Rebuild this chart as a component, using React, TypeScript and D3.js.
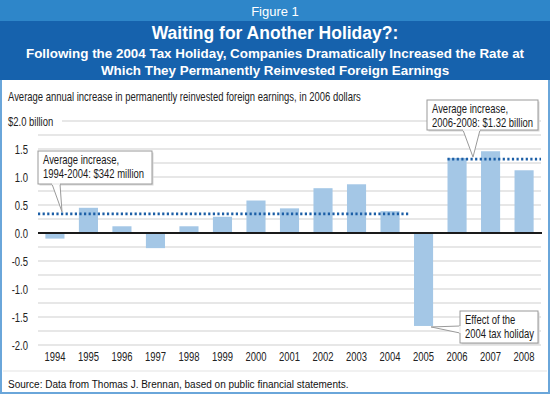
import { useEffect, useRef } from "react"
import * as d3 from "d3"

// data
const years = ["1994", "1995", "1996", "1997", "1998", "1999", "2000", "2001", "2002", "2003", "2004", "2005", "2006", "2007", "2008"]
const increases = [-0.1, 0.45, 0.12, -0.27, 0.12, 0.29, 0.58, 0.44, 0.8, 0.87, 0.39, -1.66, 1.34, 1.46, 1.12]
const yTicks = [2.0, 1.5, 1.0, 0.5, 0.0, -0.5, -1.0, -1.5, -2.0]
const averages = [
  { from: "1994", to: "2004", value: 0.342, lines: ["Average increase,", "1994-2004: $342 million"] },
  { from: "2006", to: "2008", value: 1.32, lines: ["Average increase,", "2006-2008: $1.32 billion"] },
]
const holidayNote = ["Effect of the", "2004 tax holiday"]

const W = 550
const H = 394
const arial = "'Liberation Sans', Arial, sans-serif"
// the reference uses a condensed face; squeeze Liberation Sans horizontally
const SX = 0.74
const FS = 12.8
const at = (x: number, y: number) => `translate(${x},${y}) scale(${SX},1)`

const Chart = () => {
  const svgRef = useRef<SVGSVGElement>(null)

  useEffect(() => {
    const svg = d3.select(svgRef.current)
    svg.selectAll("*").remove()

    const margin = { left: 38, right: 9, top: 121, bottom: 49 }

    const x = d3.scaleBand()
      .domain(years)
      .range([margin.left, W - margin.right])
      .paddingInner(0.43)
      .paddingOuter(0.22)

    const y = d3.scaleLinear()
      .domain([-2, 2])
      .range([H - margin.bottom, margin.top])

    // frame + header bands
    svg.append("rect").attr("width", W).attr("height", H).attr("fill", "#fff")
    svg.append("rect").attr("x", 1).attr("y", 1).attr("width", W - 2).attr("height", H - 2)
      .attr("fill", "none").attr("stroke", "#6aa6da").attr("stroke-width", 2)
    svg.append("rect").attr("width", W).attr("height", 21).attr("fill", "#2e86c9")
    svg.append("rect").attr("y", 21).attr("width", W).attr("height", 59).attr("fill", "#1662ad")

    const header = svg.append("g").attr("fill", "#fff").attr("text-anchor", "middle").attr("font-family", arial)
    header.append("text").attr("x", W / 2).attr("y", 15.5).attr("font-size", 13).text("Figure 1")
    header.append("text").attr("x", W / 2).attr("y", 39).attr("font-size", 17.5).attr("font-weight", "bold")
      .text("Waiting for Another Holiday?:")
    header.append("text").attr("x", W / 2).attr("y", 58).attr("font-size", 13.4).attr("font-weight", "bold")
      .text("Following the 2004 Tax Holiday, Companies Dramatically Increased the Rate at")
    header.append("text").attr("x", W / 2).attr("y", 75).attr("font-size", 13.4).attr("font-weight", "bold")
      .text("Which They Permanently Reinvested Foreign Earnings")

    svg.append("text").attr("transform", at(8, 101)).attr("font-family", arial).attr("font-size", FS).attr("fill", "#222")
      .text("Average annual increase in permanently reinvested foreign earnings, in 2006 dollars")

    // gridlines (every 0.25)
    const grid = d3.range(-2, 2.01, 0.25)
    svg.append("g").attr("stroke", "#cfcfcf").attr("stroke-width", 1)
      .selectAll("line").data(grid.filter(d => d !== 0)).join("line")
      .attr("x1", d => (d === 2 ? 62 : margin.left)).attr("x2", W - margin.right)
      .attr("y1", d => y(d)).attr("y2", d => y(d))

    // y tick labels
    svg.append("g").attr("font-family", arial).attr("font-size", FS).attr("fill", "#222")
      .selectAll("text").data(yTicks).join("text")
      .attr("transform", d => at(d === 2 ? 8 : 28, y(d) + 4.5))
      .attr("text-anchor", d => (d === 2 ? "start" : "end"))
      .text(d => (d === 2 ? "$2.0 billion" : d3.format(".1f")(d).replace("−", "-")))

    // bars
    svg.append("g").attr("fill", "#a4c7e6")
      .selectAll("rect").data(increases).join("rect")
      .attr("x", (d, i) => x(years[i])!)
      .attr("width", x.bandwidth())
      .attr("y", d => y(Math.max(0, d)))
      .attr("height", d => Math.abs(y(d) - y(0)))

    // zero line
    svg.append("line").attr("x1", margin.left).attr("x2", W - margin.right + 1)
      .attr("y1", y(0)).attr("y2", y(0)).attr("stroke", "#1a1a1a").attr("stroke-width", 2)

    // x labels
    svg.append("g").attr("font-family", arial).attr("font-size", FS).attr("fill", "#222").attr("text-anchor", "middle")
      .selectAll("text").data(years).join("text")
      .attr("transform", d => at(x(d)! + x.bandwidth() / 2, 361))
      .text(d => d)

    // average dotted lines
    averages.forEach((a, i) => {
      const x1 = i === 0 ? margin.left : x(a.from)!
      const x2 = i === 0 ? x(a.to)! + x.bandwidth() + 9 : W - margin.right
      svg.append("line").attr("x1", x1).attr("x2", x2).attr("y1", y(a.value)).attr("y2", y(a.value))
        .attr("stroke", "#1b5ea6").attr("stroke-width", 2.6).attr("stroke-dasharray", "2.2,2.4")
    })

    // callouts
    const callout = (bx: number, by: number, bw: number, bh: number, lines: string[], pointer: [number, number][]) => {
      const g = svg.append("g")
      g.append("rect").attr("x", bx + 1.5).attr("y", by + 1.5).attr("width", bw).attr("height", bh).attr("fill", "#d8d8d8")
      g.append("path").attr("d", d3.line()(pointer)).attr("fill", "#fff").attr("stroke", "#9a9a9a").attr("stroke-width", 1)
      g.append("rect").attr("x", bx).attr("y", by).attr("width", bw).attr("height", bh)
        .attr("fill", "#fff").attr("stroke", "#9a9a9a").attr("stroke-width", 1)
      g.append("path").attr("d", d3.line()(pointer.slice(0, 1).concat(pointer.slice(2)))).attr("stroke", "#fff").attr("stroke-width", 1.5)
      g.append("g").attr("font-family", arial).attr("font-size", FS).attr("fill", "#1a1a1a")
        .selectAll("text").data(lines).join("text")
        .attr("transform", (d, i) => at(bx + 5, by + 13 + i * 13.5)).text(d => d)
    }

    const a0 = averages[0]
    callout(38, 151, 114, 33, a0.lines, [[52, 184], [62, y(a0.value) - 2], [60, 184]])
    const a1 = averages[1]
    callout(427, 100, 111, 30, a1.lines, [[463, 130], [473, y(a1.value) - 2], [480, 130]])
    const xh = x("2005")! + x.bandwidth()
    callout(460, 311, 78, 32, holidayNote, [[460, 326], [xh - 2, y(increases[11]) + 1], [460, 333]])

    // separator + source
    svg.append("line").attr("x1", 3).attr("x2", W - 3).attr("y1", 371).attr("y2", 371).attr("stroke", "#e3e3e3")
    svg.append("text").attr("x", 8).attr("y", 388).attr("font-family", arial).attr("font-size", 10).attr("fill", "#111")
      .text("Source: Data from Thomas J. Brennan, based on public financial statements.")
  }, [])

  return <svg ref={svgRef} width={W} height={H} style={{ position: "absolute", left: 0, top: 0 }} />
}

export default function App() {
  return <Chart />
}
